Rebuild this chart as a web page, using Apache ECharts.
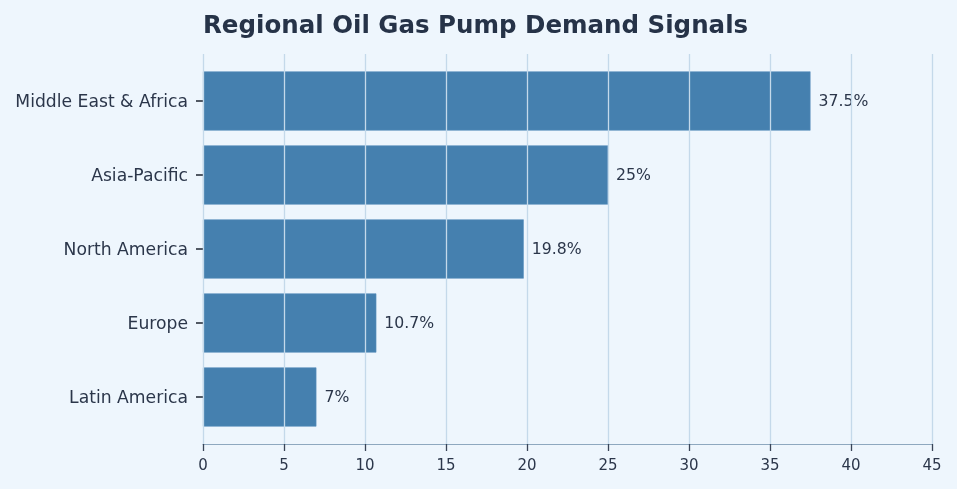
<!DOCTYPE html>
<html>
<head>
<meta charset="utf-8">
<script src="https://cdn.jsdelivr.net/npm/echarts@6/dist/echarts.min.js"></script>
<style>
html,body{margin:0;padding:0;background:#EEF6FD;}
#chart{width:957px;height:489px;}
</style>
</head>
<body>
<div id="chart"></div>
<script>
const categories = ["Middle East & Africa", "Asia-Pacific", "North America", "Europe", "Latin America"];
const values = [37.5, 25, 19.8, 10.7, 7];
const xTicks = [0, 5, 10, 15, 20, 25, 30, 35, 40, 45];

const textColor = "#2b364a";
const chart = echarts.init(document.getElementById("chart"));
chart.setOption({
  backgroundColor: "#EEF6FD",
  animation: false,
  title: {
    text: "Regional Oil Gas Pump Demand Signals",
    left: 203,
    top: 14,
    padding: 0,
    textStyle: { fontFamily: "DejaVu Sans", fontSize: 24.5, fontWeight: "bold", color: "#263348" }
  },
  grid: [
    { left: 203, right: 25, top: 64, bottom: 55 },
    { left: 203, right: 25, top: 54, bottom: 45 }
  ],
  xAxis: [
    { gridIndex: 0, type: "value", min: 0, max: 45, show: false },
    {
      gridIndex: 1, type: "value", min: 0, max: 45, interval: 5, z: 5,
      axisLine: { show: true, lineStyle: { color: "#8ea8bf", width: 1.2 } },
      axisTick: { show: true, length: 7, lineStyle: { color: "#3a4558", width: 1.3 } },
      axisLabel: { fontFamily: "DejaVu Sans", fontSize: 15, color: textColor, margin: 15,
        formatter: v => xTicks.includes(v) ? String(v) : "" },
      splitLine: { show: true, lineStyle: { color: "#c4d9ea", width: 1.3 } }
    }
  ],
  yAxis: [
    {
      gridIndex: 0, type: "category", data: categories, inverse: true,
      axisLine: { show: false },
      axisTick: { show: true, length: 7, alignWithLabel: true, lineStyle: { color: "#1e2430", width: 1.5 } },
      axisLabel: { margin: 15, formatter: v => "{a|" + v + "}",
        rich: { a: { fontFamily: "DejaVu Sans", fontSize: 17.2, color: textColor, padding: [4, 0, 0, 0] } } }
    },
    { gridIndex: 1, type: "value", min: 0, max: 1, show: false }
  ],
  series: [
    {
      type: "bar", xAxisIndex: 0, yAxisIndex: 0, data: values, barWidth: "80%",
      itemStyle: { color: "#4580AF", borderColor: "#5b91be", borderWidth: 0.6 },
      label: { show: true, position: "right", distance: 8, offset: [0, 1], fontFamily: "DejaVu Sans", fontSize: 15.7,
        color: textColor, formatter: p => p.value + "%" }
    },
    { type: "scatter", xAxisIndex: 1, yAxisIndex: 1, data: [] }
  ]
});
</script>
</body>
</html>
